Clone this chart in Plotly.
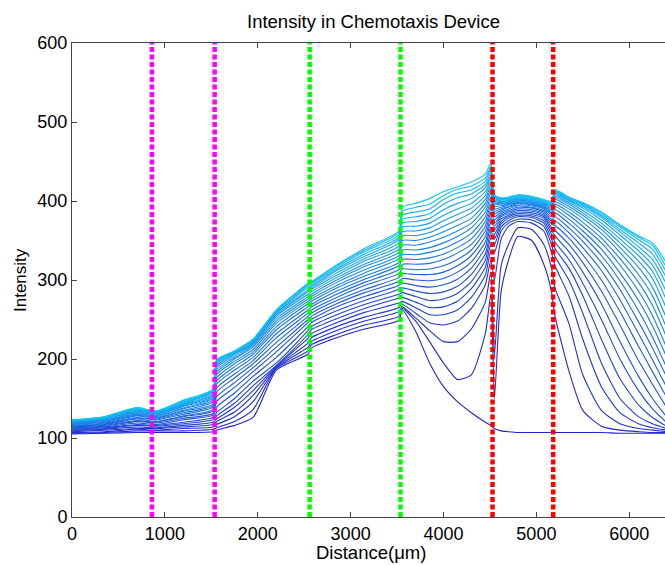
import numpy as np
import plotly.graph_objects as go

# Distance positions (um) at which the intensity profiles were read
distance_um = [0, 350, 700, 900, 1200, 1518,
               1556, 1750, 1950, 2200, 2541,
               2578, 2850, 3150, 3519,
               3556, 3700, 3850, 4000, 4150, 4300, 4450, 4510,
               4548, 4620, 4700, 4800, 4950, 5080, 5163,
               5200, 5350, 5500, 5700, 5900, 6100, 6250, 6400]

# Each inner list: intensity of every frame (earliest -> latest) at one distance
left_channel = [
    [105,106,107,108,109,110,111,112,113,114,115,115,116,117,118,118,119,120,120,121,121,122,122,122,123,123],
    [106,107,108,110,111,112,113,114,115,116,117,118,119,120,121,122,122,123,124,124,125,125,126,126,127,127],
    [107,109,111,112,114,116,117,119,121,122,124,125,126,128,129,130,131,132,133,134,135,136,137,137,138,139],
    [107,109,110,112,113,115,116,117,119,120,121,123,124,125,126,127,128,129,130,131,132,132,133,133,134,134],
    [107,109,112,114,116,118,120,123,125,127,128,130,132,134,135,137,138,140,141,142,143,144,145,146,147,148],
    [108,111,114,117,120,123,126,129,131,134,136,139,141,143,146,148,150,151,153,155,156,158,159,160,161,162],
]
magenta_chamber = [
    [110,113,117,121,124,128,132,139,146,152,158,163,168,172,176,180,183,186,189,191,193,195,196,197,198,199],
    [116,121,127,133,139,144,150,157,164,170,176,181,186,190,194,197,200,202,204,206,207,208,209,209,210,210],
    [126,136,146,154,160,166,172,178,184,189,194,198,202,206,209,212,215,217,219,220,221,222,223,224,225,225],
    [186,188,189,190,191,192,195,202,209,215,221,227,232,237,241,245,248,251,254,256,258,259,260,261,262,262],
    [206,210,215,220,226,231,236,241,246,250,254,258,262,266,270,273,276,279,282,285,287,290,292,294,295,296],
]
green_chamber = [
    [214,218,222,227,232,237,241,246,250,254,258,262,266,269,273,276,279,282,285,288,290,292,294,296,297,298],
    [227,231,236,241,246,251,256,261,266,270,274,278,282,286,290,293,297,300,303,306,309,312,314,316,318,319],
    [238,243,248,253,259,264,269,274,279,284,288,293,297,301,305,309,313,317,320,324,327,330,333,336,338,340],
    [249,254,260,265,271,277,282,288,293,298,303,308,313,318,322,327,331,335,339,343,347,351,354,357,360,362],
]
red_approach = [
    [262,264,266,269,273,278,284,290,296,302,308,314,320,326,332,338,344,350,356,361,367,372,377,382,387,392],
    [235,248,252,258,265,272,279,286,293,300,307,313,320,326,332,338,344,350,356,362,368,374,380,386,392,397],
    [195,222,236,246,256,265,274,283,291,299,307,314,321,328,335,341,348,354,360,366,372,378,384,390,396,403],
    [165,195,222,243,256,266,276,285,294,302,310,318,326,333,340,347,354,361,368,375,382,389,396,402,407,412],
    [146,174,222,248,262,273,283,292,301,310,318,326,334,341,348,355,362,369,376,383,390,397,404,410,415,418],
    [132,180,238,264,278,289,298,307,315,323,331,338,345,352,359,366,372,378,385,391,397,403,409,414,419,424],
    [120,232,272,294,306,316,325,333,341,348,355,362,368,374,380,386,392,397,402,407,412,417,421,425,429,434],
    [116,282,310,325,336,345,353,360,367,373,379,385,390,395,400,405,410,415,419,424,428,432,436,440,444,448],
]
red_chamber = [
    [112,150,205,300,335,345,352,358,363,368,372,376,380,384,387,390,393,396,398,400,402,404,405,406,407,408],
    [109,285,318,352,362,367,371,374,377,380,382,384,386,388,390,392,394,396,397,398,399,400,401,402,403,404],
    [108,325,345,368,372,375,378,380,382,384,386,388,390,392,393,395,396,397,398,399,400,401,402,403,404,405],
    [107,355,366,374,377,380,382,384,386,388,390,392,394,395,397,398,399,400,401,402,403,404,405,406,407,408],
    [107,350,364,372,376,379,381,383,385,387,389,391,392,394,395,396,397,398,399,400,401,402,403,404,405,406],
    [107,320,345,362,368,372,375,378,380,382,384,386,388,390,391,392,393,394,395,396,397,398,399,400,401,402],
    [107,285,315,335,345,352,358,363,367,371,374,377,380,383,385,387,389,391,393,394,395,396,397,398,399,400],
]
right_channel = [
    [107,255,290,318,330,340,348,356,363,369,375,380,385,389,393,396,399,402,404,406,408,410,411,412,413,414],
    [107,185,245,280,300,315,326,336,345,353,360,366,372,377,382,386,390,393,396,398,400,401,402,403,404,405],
    [107,135,180,225,258,280,296,310,322,332,341,349,356,362,368,373,378,382,385,388,391,393,395,396,397,398],
    [107,115,135,165,195,225,250,270,286,300,312,322,331,339,347,353,359,364,368,372,376,379,381,383,385,386],
    [106,110,118,132,150,175,200,222,243,260,275,288,299,309,319,327,335,341,347,352,357,361,364,367,369,370],
    [106,108,112,118,127,142,160,178,198,216,232,247,261,274,286,297,307,316,324,331,337,342,347,351,354,356],
    [106,107,110,113,118,126,137,150,168,184,199,214,228,242,255,268,280,291,302,311,319,326,333,339,344,347],
    [106,107,108,110,112,115,120,127,139,152,165,178,190,203,215,228,240,252,264,275,285,295,303,310,316,322],
]

# Chamber boundary markers (um) and their colours
boundary_um = [860, 1536, 2559, 3537, 4528, 5181]
boundary_colors = ["#FF00FF", "#FF00FF", "#00FF00", "#00FF00", "#FF0000", "#FF0000"]

x_ticks = [0, 1000, 2000, 3000, 4000, 5000, 6000]
y_ticks = [0, 100, 200, 300, 400, 500, 600]

columns = left_channel + magenta_chamber + green_chamber + red_approach + red_chamber + right_channel
frames = np.array(columns).T  # one row per frame

fig = go.Figure()
n = frames.shape[0]
c0 = np.array([35, 35, 205])
c1 = np.array([15, 195, 245])
for k in range(n):
    t = k / (n - 1)
    r, g, b = (c0 * (1 - t) + c1 * t).round().astype(int)
    fig.add_trace(go.Scatter(
        x=distance_um, y=frames[k], mode="lines",
        line=dict(color=f"rgb({r},{g},{b})", width=1.1, shape="spline", smoothing=0.6),
        showlegend=False, hoverinfo="skip"))

shapes = []
for bx, bc in zip(boundary_um, boundary_colors):
    shapes.append(dict(type="line", xref="x", yref="paper", x0=bx, x1=bx, y0=0, y1=1,
                       line=dict(color=bc, width=4.5, dash="5px,2.5px"), layer="above"))

font_family = "Liberation Sans, Arial, sans-serif"
L, R, T, B = 72, 0, 43, 48
W, H = 665, 565
pw, ph = W - L - R, H - T - B

def px_to_paper(px, py):
    return (px - L) / pw, (H - B - py) / ph

annotations = []
tx, ty = px_to_paper(373, 22)
annotations.append(dict(text="Intensity in Chemotaxis Device", x=tx, y=ty, xref="paper", yref="paper",
                        showarrow=False, font=dict(family=font_family, size=18.5, color="black"),
                        xanchor="center", yanchor="middle"))
tx, ty = px_to_paper(371, 552)
annotations.append(dict(text="Distance(\u03bcm)", x=tx, y=ty, xref="paper", yref="paper",
                        showarrow=False, font=dict(family=font_family, size=18.5, color="black"),
                        xanchor="center", yanchor="middle"))
tx, ty = px_to_paper(20, 280)
annotations.append(dict(text="Intensity", x=tx, y=ty, xref="paper", yref="paper", textangle=-90,
                        showarrow=False, font=dict(family=font_family, size=17, color="black"),
                        xanchor="center", yanchor="middle"))

tick_font = dict(family=font_family, size=18, color="black")
fig.update_layout(
    width=W, height=H,
    margin=dict(l=L, r=R, t=T, b=B, pad=0),
    paper_bgcolor="white", plot_bgcolor="white",
    shapes=shapes, annotations=annotations,
    font=dict(family=font_family, size=18, color="black"),
    xaxis=dict(range=[0, 6385], tickvals=x_ticks, ticktext=[str(v) for v in x_ticks],
               ticks="inside", ticklen=5, tickcolor="#444", showline=True, linecolor="#444",
               linewidth=1, mirror="ticks", showgrid=False, zeroline=False, tickfont=tick_font),
    yaxis=dict(range=[0, 600], tickvals=y_ticks, ticktext=[str(v) for v in y_ticks],
               ticks="inside", ticklen=5, tickcolor="#444", showline=True, linecolor="#444",
               linewidth=1, mirror=False, showgrid=False, zeroline=False, tickfont=tick_font),
)

fig.write_html("out.html")
